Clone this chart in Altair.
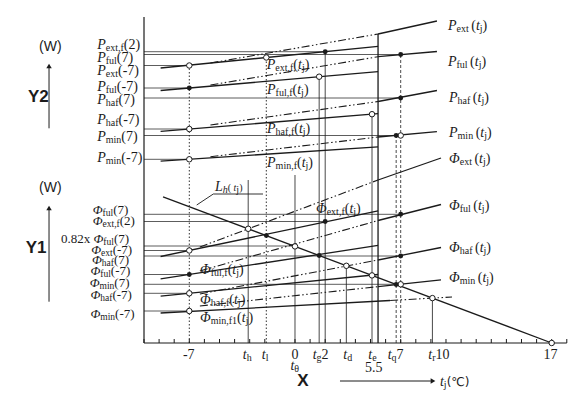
import altair as alt
import pandas as pd

INK = "#1b1b1b"

# ---------------- data (temperature t in °C, capacity W in arbitrary units) ----------------
axis_ticks_t = list(range(-10, 19))

# solid characteristic lines  name: ([t1, t2], [W1, W2])
solid_lines = {
    "Pext_f": ([-8.9, 5.5], [275, 296.6]),
    "Pext": ([5.5, 9.4], [309, 322]),
    "Pful_f": ([-8.9, 5.5], [252.5, 271.3]),
    "Pful": ([5.5, 9.4], [286.3, 291.5]),
    "Phaf_f": ([-8.9, 5.5], [211.7, 229.3]),
    "Phaf": ([5.5, 9.4], [241.5, 252.5]),
    "Pmin_f": ([-8.9, 5.5], [181.8, 196.2]),
    "Pmin": ([5.5, 9.4], [206, 211.3]),
    "Fext_f": ([-8.9, 5.5], [86.5, 132.1]),
    "Fext": ([5.5, 9.67], [163, 185]),
    "Fful_f": ([-8.9, 5.5], [64.1, 97.6]),
    "Fful": ([5.5, 9.67], [122.5, 138.5]),
    "Fhaf_f": ([-8.9, 5.5], [46.8, 68.5]),
    "Fhaf": ([5.5, 9.67], [83, 95.5]),
    "Fmin_f1": ([-8.9, 6.3], [30, 42.5]),
    "Fmin": ([5.5, 9.67], [56.4, 63.1]),
    "Lh": ([-8.74, 17], [146.2, 0]),
}
# dash-dot lines
dashdot_lines = {
    "Pext": ([-5.6, 5.5], [280, 309]),
    "Pful": ([-5.6, 5.5], [258, 286.3]),
    "Phaf": ([-5.6, 5.5], [218, 241.5]),
    "Pmin": ([-5.6, 5.5], [186.3, 206]),
    "Fext": ([-6.3, 5.5], [96, 163]),
    "Fful": ([-6.3, 5.5], [72, 122.5]),
    "Fhaf": ([-6.3, 5.5], [49, 83]),
    "Fmin": ([-6.3, 5.5], [37, 56.4]),
    "Fmin_f1": ([6.3, 10.4], [42.5, 46]),
}
# horizontal reference levels from the W axis
href_w = [291.3, 288.5, 277.5, 255, 245, 214, 207.5, 183.7,
          128.7, 121.5, 97, 92.5, 87, 68.5, 58.7, 49.7, 32]
href_tend = [2, 7, -7, -7, 7, -7, 7, -7,
             7, 2, 0, -7, 7, -7, 7, -7, -7]
# vertical temperature lines
vline_t = [-7, -3.1, -1.9, 0, 1.6, 2, 3.4, 5.1, 5.5, 6.7, 7, 9.1]
vline_top = [277.5, 163, 285.5, 168, 266.3, 291.3, 77.2, 228.8, 309, 207.5, 288.5, 44.9]
vline_sty = ["dot", "solid", "dot", "solid", "solid", "solid", "solid", "solid",
             "thick", "dash", "dash", "solid"]
# markers
open_t = [-7, -7, -7, -1.9, 1.6, 5.1, 7, -7, -7, -7, -3.1, 0, 3.4, 5.1, 7, 9.1, 17]
open_w = [277.5, 214, 183.7, 285.5, 266.3, 228.8, 207.5, 92.5, 49.7, 32,
          114.2, 96.6, 77.2, 67.6, 58.7, 44.9, 0]
fill_t = [-7, 2, 7, 7, 6.7, -7, -1.9, 1.6, 6.7, 2, 7, 7]
fill_w = [255, 291.3, 288.5, 245, 207.5, 68.5, 107.4, 87.5, 58.5, 121.5, 128.7, 87]

TJ = "n:(|i:t|s:j|n:)"
labels = [
    # left, Y2
    ("i:P|s:ext,f|n:(2)", -13.1, 294),
    ("i:P|s:ful|n:(7)", -13.1, 281.3),
    ("i:P|s:ext|n:(-7)", -13.1, 268),
    ("i:P|s:ful|n:(-7)", -13.1, 252),
    ("i:P|s:haf|n:(7)", -13.1, 239),
    ("i:P|s:haf|n:(-7)", -13.1, 219),
    ("i:P|s:min|n:(7)", -13.1, 202.3),
    ("i:P|s:min|n:(-7)", -13.1, 181.3),
    # left, Y1 (slightly smaller type, tightly stacked as in the source)
    ("i2:Φ|s2:ful|n2:(7)", -13.4, 129.5),
    ("i2:Φ|s2:ext,f|n2:(2)", -13.4, 118),
    ("n2:0.82x |i2:Φ|s2:ful|n2:(7)", -15.5, 100),
    ("i2:Φ|s2:ext|n2:(-7)", -13.5, 89.5),
    ("i2:Φ|s2:haf|n2:(7)", -13.45, 79.5),
    ("i2:Φ|s2:ful|n2:(-7)", -13.55, 68.5),
    ("i2:Φ|s2:min|n2:(7)", -13.6, 56),
    ("i2:Φ|s2:haf|n2:(-7)", -13.55, 44.5),
    ("i2:Φ|s2:min|n2:(-7)", -13.55, 25.5),
    # right
    ("i:P|s:ext |" + TJ, 10.13, 313),
    ("i:P|s:ful |" + TJ, 10.13, 277),
    ("i:P|s:haf |" + TJ, 10.2, 241.3),
    ("i:P|s:min |" + TJ, 10.2, 206),
    ("i:Φ|s:ext |" + TJ, 10.2, 180),
    ("i:Φ|s:ful |" + TJ, 10.2, 133),
    ("i:Φ|s:haf |" + TJ, 10.2, 91.3),
    ("i:Φ|s:min |" + TJ, 10.2, 61),
    # inline
    ("i:P|s:ext,f|" + TJ, -1.87, 274),
    ("i:P|s:ful,f|" + TJ, -1.85, 249),
    ("i:P|s:haf,f|" + TJ, -1.85, 210),
    ("i:P|s:min,f|" + TJ, -1.85, 176),
    ("i:Φ|s:ext,f|" + TJ, 1.39, 130),
    ("i:Φ|s:ful,f|" + TJ, -6.29, 69),
    ("i:Φ|s:haf,f|" + TJ, -6.29, 39),
    ("i:Φ|s:min,f1|" + TJ, -6.29, 21),
    ("i:L|si:h|m: (|mi:t|s:j|m:)", -5.3, 152),
    # x tick labels
    ("n:-7", -7.42, -16),
    ("i:t|s:h", -3.46, -16),
    ("i:t|s:l", -2.2, -16),
    ("n:0", -0.23, -16),
    ("i:t|s:g|n:2", 1.17, -16),
    ("i:t|s:d", 3.2, -16),
    ("i:t|s:e", 4.85, -16),
    ("i:t|s:q|n:7", 6.14, -16),
    ("i:t|s:r|n:10", 8.83, -16),
    ("n:17", 16.45, -16),
    ("i:t|s:θ", -0.3, -27),
    ("n:5.5", 4.64, -29),
    ("i:t|s:j|c: (℃)", 9.6, -43),
]

# ---------------- helpers ----------------
PX_PER_DEG = 15.1
REG = {' ': 250, '(': 333, ')': 333, '-': 333, '.': 250, ',': 250, 'a': 444, 'd': 500,
       'e': 444, 'f': 333, 'g': 500, 'h': 500, 'i': 278, 'j': 278, 'l': 278, 'm': 778,
       'n': 500, 'q': 500, 'r': 333, 't': 278, 'u': 500, 'x': 500, 'P': 556, 'Φ': 763,
       'θ': 500, 'L': 611, '℃': 1000}
ITA = {'P': 611, 'Φ': 763, 't': 278, 'j': 278, 'L': 556, 'h': 500}
KIND = {
    "n": (14, "normal", 0, "Liberation Serif"),
    "i": (14, "italic", 0, "Liberation Serif"),
    "s": (10, "normal", -2, "Liberation Serif"),
    "si": (10, "italic", -2, "Liberation Serif"),
    "m": (10, "normal", 0, "Liberation Serif"),
    "mi": (10, "italic", 0, "Liberation Serif"),
    "n2": (13, "normal", 0, "Liberation Serif"),
    "i2": (13, "italic", 0, "Liberation Serif"),
    "s2": (9.5, "normal", -2, "Liberation Serif"),
    "c": (12, "normal", 0, "DejaVu Sans"),
}


def cw(c, italic):
    if italic and c in ITA:
        return ITA[c]
    if c.isdigit():
        return 500
    return REG.get(c, 500)


rows = []
for spec, t0, w0 in labels:
    x = t0
    for tok in spec.split("|"):
        kind, txt = tok.split(":", 1)
        size, style, dy, font = KIND[kind]
        rows.append(dict(t=x, w=w0 + dy, text=txt, kind=kind))
        x += sum(cw(c, style == "italic") for c in txt) * size / 1000 / PX_PER_DEG
text_df = pd.DataFrame(rows)


def seg_df(d):
    r = []
    for name, (ts, ws) in d.items():
        for k, (t, w) in enumerate(zip(ts, ws)):
            r.append(dict(seg=name, k=k, t=t, w=w))
    return pd.DataFrame(r)


xs = alt.Scale(domain=[-19.007, 18.411], nice=False, zero=False)
ys = alt.Scale(domain=[-48, 335], nice=False, zero=False)
X = alt.X("t:Q", scale=xs, axis=None)
Y = alt.Y("w:Q", scale=ys, axis=None)

layers = []
DASHDOT = [8, 2.5, 1.5, 2.5, 1.5, 2.5]

# horizontal reference lines
href = pd.DataFrame({"t": -10, "t2": href_tend, "w": href_w})
layers.append(alt.Chart(href).mark_rule(color="#333", strokeWidth=0.8).encode(
    x=X, x2="t2:Q", y=Y))

# vertical lines
vdf = pd.DataFrame({"t": vline_t, "w": 0, "w2": vline_top, "sty": vline_sty})
sty_map = {"solid": ([1, 0], 0.8), "dot": ([1.5, 2], 0.9), "dash": ([3, 2], 0.8), "thick": ([1, 0], 1.3)}
for s, (dash, wdt) in sty_map.items():
    sub = vdf[vdf.sty == s]
    layers.append(alt.Chart(sub).mark_rule(color=INK, strokeWidth=wdt, strokeDash=dash).encode(
        x=X, y=Y, y2="w2:Q"))

# characteristic lines
layers.append(alt.Chart(seg_df(solid_lines)).mark_line(color=INK, strokeWidth=1.3).encode(
    x=X, y=Y, detail="seg:N", order="k:Q"))
layers.append(alt.Chart(seg_df(dashdot_lines)).mark_line(color=INK, strokeWidth=1.1, strokeDash=DASHDOT).encode(
    x=X, y=Y, detail="seg:N", order="k:Q"))

# Lh label leader
lead = pd.DataFrame({"seg": ["u", "u", "l", "l"], "k": [0, 1, 0, 1],
                     "t": [-5.41, -2.12, -5.41, -6.51], "w": [149, 149, 149, 138]})
layers.append(alt.Chart(lead).mark_line(color=INK, strokeWidth=0.9).encode(
    x=X, y=Y, detail="seg:N", order="k:Q"))

# axes
axes = pd.DataFrame({"t": [-10, -10], "t2": [18, -10], "w": [0, 0], "w2": [0, 326]})
layers.append(alt.Chart(axes).mark_rule(color=INK, strokeWidth=1.2).encode(
    x=X, x2="t2:Q", y=Y, y2="w2:Q"))
tick_df = pd.DataFrame({"t": axis_ticks_t, "w": 0, "w2": 4})
layers.append(alt.Chart(tick_df).mark_rule(color=INK, strokeWidth=1).encode(x=X, y=Y, y2="w2:Q"))

# markers
layers.append(alt.Chart(pd.DataFrame({"t": open_t, "w": open_w})).mark_point(
    shape="circle", filled=True, fill="white", stroke=INK, strokeWidth=1, size=30, opacity=1).encode(x=X, y=Y))
layers.append(alt.Chart(pd.DataFrame({"t": fill_t, "w": fill_w})).mark_point(
    shape="circle", filled=True, color=INK, size=24, opacity=1).encode(x=X, y=Y))

# arrows
arr = pd.DataFrame({"t": [2.98, -16.29, -16.29], "t2": [9.0, -16.29, -16.29],
                    "w": [-38, 214.7, 41.3], "w2": [-38, 275, 133]})
layers.append(alt.Chart(arr).mark_rule(color=INK, strokeWidth=1).encode(
    x=X, x2="t2:Q", y=Y, y2="w2:Q"))
layers.append(alt.Chart(pd.DataFrame({"t": [9.14], "w": [-38]})).mark_point(
    shape="triangle-right", filled=True, color=INK, size=30, opacity=1).encode(x=X, y=Y))
layers.append(alt.Chart(pd.DataFrame({"t": [-16.29, -16.29], "w": [277, 135]})).mark_point(
    shape="triangle-up", filled=True, color=INK, size=30, opacity=1).encode(x=X, y=Y))

# text pieces
for kind, (size, style, dy, font) in KIND.items():
    sub = text_df[text_df.kind == kind]
    if len(sub) == 0:
        continue
    layers.append(alt.Chart(sub).mark_text(
        align="left", baseline="alphabetic", font=font, fontSize=size, fontStyle=style, color=INK
    ).encode(x=X, y=Y, text="text:N"))

# sans titles
titles = pd.DataFrame({
    "t": [-16.2, -17.0, -16.2, -17.15, 0.53],
    "w": [296, 246, 155, 95, -38],
    "text": ["(W)", "Y2", "(W)", "Y1", "X"],
    "bold": [0, 1, 0, 1, 1],
})
layers.append(alt.Chart(titles[titles.bold == 0]).mark_text(
    align="center", baseline="middle", font="Liberation Sans", fontSize=14, color=INK
).encode(x=X, y=Y, text="text:N"))
layers.append(alt.Chart(titles[titles.bold == 1]).mark_text(
    align="center", baseline="middle", font="Liberation Sans", fontSize=17, fontWeight="bold", color=INK
).encode(x=X, y=Y, text="text:N"))

chart = alt.layer(*layers).properties(
    width=565, height=383, padding=0, autosize=alt.AutoSizeParams(type="none"), background="white"
).configure_view(stroke=None)

chart.save("out.html", embed_options={"renderer": "svg", "actions": False})
